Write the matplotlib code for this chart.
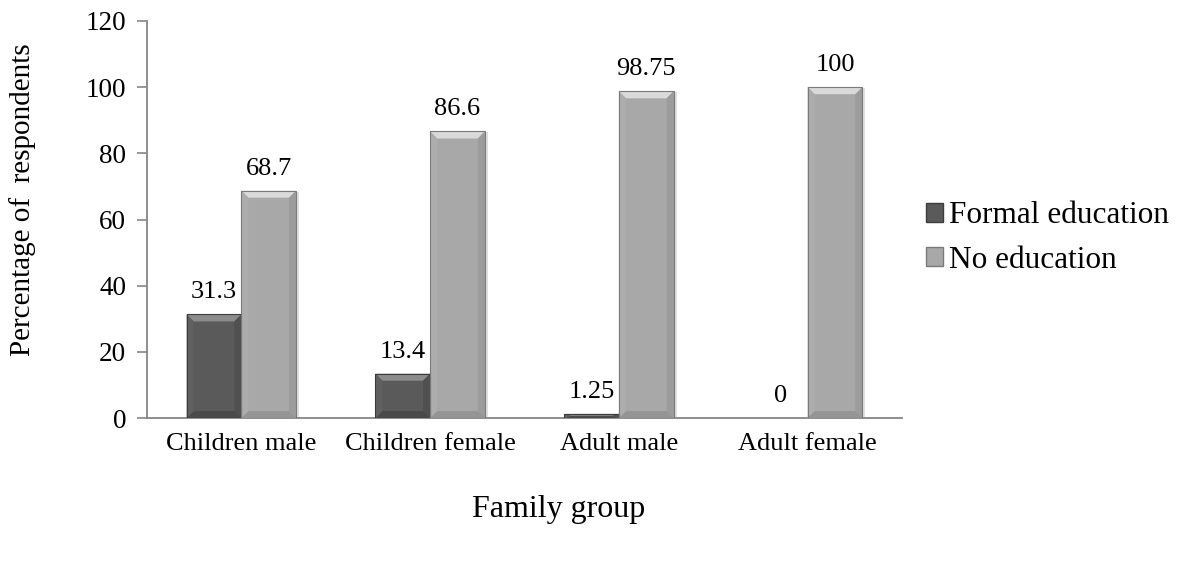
import numpy as np
import matplotlib
matplotlib.use("Agg")
import matplotlib.pyplot as plt
from matplotlib.patches import Polygon, Patch

plt.rcParams["font.family"] = ["Liberation Serif", "DejaVu Serif"]

groups = ["Children male", "Children female", "Adult male", "Adult female"]
series_names = ["Formal education", "No education"]
formal = [31.3, 13.4, 1.25, 0]
no_edu = [68.7, 86.6, 98.75, 100]
value_labels = [["31.3", "13.4", "1.25", "0"], ["68.7", "86.6", "98.75", "100"]]

face_colors = ["#5a5a5a", "#a8a8a8"]
top_colors = ["#8c8c8c", "#dadada"]
side_light = ["#606060", "#adadad"]
side_dark = ["#505050", "#9c9c9c"]
bottom_colors = ["#4a4a4a", "#959595"]
edge_colors = ["#3c3c3c", "#7a7a7a"]

fig = plt.figure(figsize=(11.79, 5.85), dpi=100)
ax = fig.add_axes([147 / 1179, 1 - 418 / 585, 755 / 1179, 397 / 585])
ax.set_xlim(-0.5, 3.5)
ax.set_ylim(0, 120)

x = np.arange(len(groups))
width = 0.29
bars = []
for i, vals in enumerate([formal, no_edu]):
    offset = (i - 0.5) * width
    b = ax.bar(x + offset, vals, width, color=face_colors[i], edgecolor="none",
               zorder=2, label=series_names[i])
    bars.append(b)

# bevelled edges on each bar, sized in pixels
fig.canvas.draw()
px = ax.transData.transform([[0, 0], [1, 1]])
px_x = abs(px[1, 0] - px[0, 0])
px_y = abs(px[1, 1] - px[0, 1])
bevel = 7
for i, b in enumerate(bars):
    for rect in b:
        h = rect.get_height()
        if h <= 0:
            continue
        x0 = rect.get_x()
        w = rect.get_width()
        x1 = x0 + w
        bx = bevel / px_x
        by = min(bevel, h * px_y / 2) / px_y
        # soft drop shadow
        ax.add_patch(Polygon([[x0 + 2 / px_x, 0], [x1 + 3 / px_x, 0],
                              [x1 + 3 / px_x, h - 1 / px_y], [x0 + 2 / px_x, h - 1 / px_y]],
                             closed=True, color="#000000", alpha=0.12, lw=0, zorder=1))
        ax.add_patch(Polygon([[x0, h], [x1, h], [x1 - bx, h - by], [x0 + bx, h - by]],
                             closed=True, color=top_colors[i], lw=0, zorder=3))
        ax.add_patch(Polygon([[x0, 0], [x1, 0], [x1 - bx, by], [x0 + bx, by]],
                             closed=True, color=bottom_colors[i], lw=0, zorder=3))
        ax.add_patch(Polygon([[x0, 0], [x0 + bx, by], [x0 + bx, h - by], [x0, h]],
                             closed=True, color=side_light[i], lw=0, zorder=3))
        ax.add_patch(Polygon([[x1, 0], [x1 - bx, by], [x1 - bx, h - by], [x1, h]],
                             closed=True, color=side_dark[i], lw=0, zorder=3))
        ax.add_patch(Polygon([[x0, 0], [x1, 0], [x1, h], [x0, h]], closed=True,
                             fill=False, edgecolor=edge_colors[i], lw=0.8, zorder=4))

for i, b in enumerate(bars):
    for rect, txt in zip(b, value_labels[i]):
        ax.annotate(txt, (rect.get_x() + rect.get_width() / 2, rect.get_height()),
                    xytext=(0, 8), textcoords="offset points", ha="center", va="bottom",
                    fontsize=19, zorder=5)

ax.set_xticks(x)
ax.set_xticklabels(groups, fontsize=19)
ax.tick_params(axis="x", length=0, pad=11)
ax.set_yticks(np.arange(0, 121, 20))
ax.tick_params(axis="y", labelsize=19.5, length=7, color="#868686", width=1.2, pad=8)
for side in ["top", "right"]:
    ax.spines[side].set_visible(False)
for side in ["left", "bottom"]:
    ax.spines[side].set_color("#868686")
    ax.spines[side].set_linewidth(1.3)

fig.text(23 / 1179, 1 - 200 / 585, "Percentage of  respondents", rotation=90,
         ha="center", va="center", fontsize=21)
fig.text(559 / 1179, 1 - 510 / 585, "Family group", ha="center", va="center", fontsize=23)

handles = [Patch(facecolor=face_colors[i], edgecolor=edge_colors[i]) for i in range(2)]
fig.legend(handles, series_names, loc="center left", bbox_to_anchor=(910 / 1179, 1 - 238 / 585),
           frameon=False, fontsize=22.5, handlelength=0.55, handleheight=0.55,
           handletextpad=0.2, labelspacing=0.5, borderpad=0)

fig.savefig("out.png", dpi=100)
